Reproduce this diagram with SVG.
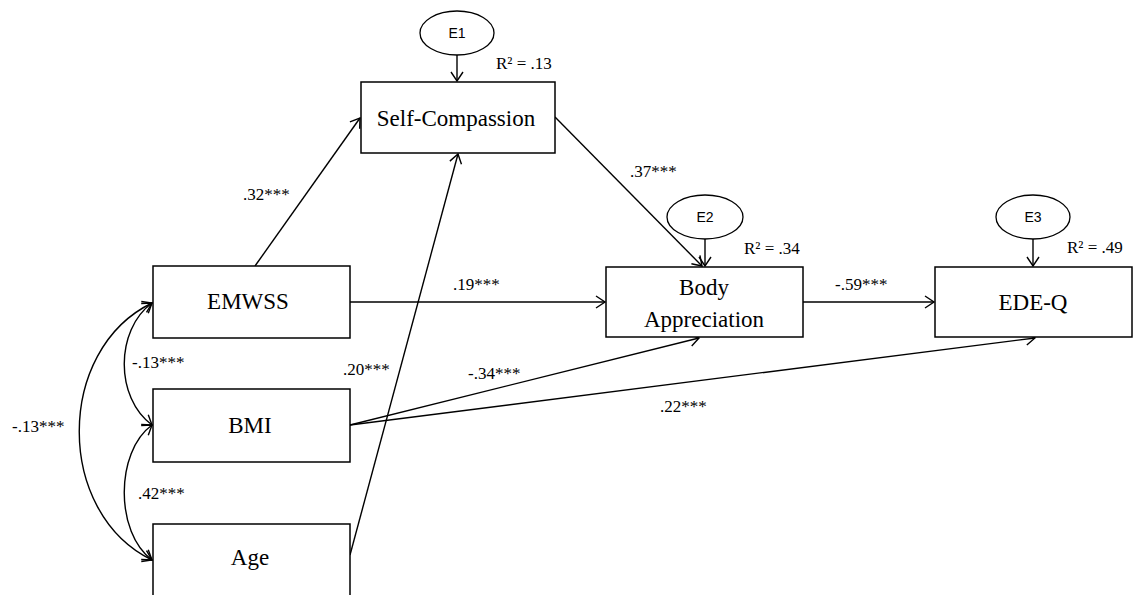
<svg xmlns="http://www.w3.org/2000/svg" width="1138" height="595" viewBox="0 0 1138 595">
<style>
.box{fill:#fff;stroke:#000;stroke-width:1.5}
.ell{fill:#fff;stroke:#000;stroke-width:1.3}
.lbl{font-family:"Liberation Serif",serif;font-size:23px;fill:#000;text-anchor:middle}
.e{font-family:"Liberation Sans",sans-serif;font-size:14px;fill:#000;text-anchor:middle}
.c{font-family:"Liberation Serif",serif;font-size:17px;fill:#000}
.ln{fill:none;stroke:#000;stroke-width:1.4;marker-end:url(#ah)}
.cv{fill:none;stroke:#000;stroke-width:1.4;marker-end:url(#ah);marker-start:url(#ahs)}
</style>
<defs>
<marker id="ah" markerWidth="14" markerHeight="14" refX="12" refY="7" orient="auto" markerUnits="userSpaceOnUse">
<path d="M3,1 L12,7 L3,13" fill="none" stroke="#000" stroke-width="1.4"/>
</marker>
<marker id="ahs" markerWidth="14" markerHeight="14" refX="12" refY="7" orient="auto-start-reverse" markerUnits="userSpaceOnUse">
<path d="M3,1 L12,7 L3,13" fill="none" stroke="#000" stroke-width="1.4"/>
</marker>
</defs>
<rect width="1138" height="595" fill="#fff"/>
<g id="connectors">
<line class="ln" x1="457" y1="55" x2="457" y2="81"/>
<line class="ln" x1="705" y1="239" x2="705" y2="266"/>
<line class="ln" x1="1033" y1="239" x2="1033" y2="266"/>
<line class="ln" x1="255" y1="266" x2="360" y2="118"/>
<line class="ln" x1="350" y1="555" x2="458" y2="154"/>
<line class="ln" x1="555" y1="117" x2="702" y2="266"/>
<line class="ln" x1="350" y1="302" x2="605" y2="302"/>
<line class="ln" x1="803" y1="302" x2="934" y2="302"/>
<line class="ln" x1="350" y1="425" x2="699" y2="338"/>
<line class="ln" x1="350" y1="425" x2="1035" y2="338"/>
<path class="cv" d="M152,303 C115,330 115,398 152,425"/>
<path class="cv" d="M152,425 C115,452 115,533 152,560"/>
<path class="cv" d="M152,303 C55,350 55,513 152,560"/>
</g>
<g id="E1"><ellipse class="ell" cx="457" cy="33" rx="37" ry="22"/><text class="e" x="457" y="38">E1</text></g>
<g id="E2"><ellipse class="ell" cx="705" cy="217" rx="38" ry="22"/><text class="e" x="705" y="222">E2</text></g>
<g id="E3"><ellipse class="ell" cx="1033" cy="217" rx="37" ry="22"/><text class="e" x="1033" y="222">E3</text></g>
<g id="SelfCompassion"><rect class="box" x="361" y="82" width="194" height="71"/><text class="lbl" x="456" y="126">Self-Compassion</text></g>
<g id="EMWSS"><rect class="box" x="153" y="266" width="197" height="72"/><text class="lbl" x="248" y="309">EMWSS</text></g>
<g id="BMI"><rect class="box" x="153" y="389" width="197" height="73"/><text class="lbl" x="250" y="433">BMI</text></g>
<g id="Age"><rect class="box" x="153" y="524" width="197" height="74"/><text class="lbl" x="250" y="565">Age</text></g>
<g id="BodyAppreciation"><rect class="box" x="606" y="267" width="197" height="70"/><text class="lbl" x="704" y="295">Body</text><text class="lbl" x="704" y="327">Appreciation</text></g>
<g id="EDEQ"><rect class="box" x="935" y="267" width="197" height="70"/><text class="lbl" x="1033" y="310">EDE-Q</text></g>
<g id="labels">
<text class="c" x="496" y="69">R² = .13</text>
<text class="c" x="744" y="254">R² = .34</text>
<text class="c" x="1067" y="253">R² = .49</text>
<text class="c" x="243" y="200">.32***</text>
<text class="c" x="630" y="177">.37***</text>
<text class="c" x="453" y="290">.19***</text>
<text class="c" x="835" y="290">-.59***</text>
<text class="c" x="468" y="379">-.34***</text>
<text class="c" x="660" y="412">.22***</text>
<text class="c" x="343" y="375">.20***</text>
<text class="c" x="12" y="432">-.13***</text>
<text class="c" x="132" y="368">-.13***</text>
<text class="c" x="138" y="499">.42***</text>
</g>
</svg>
